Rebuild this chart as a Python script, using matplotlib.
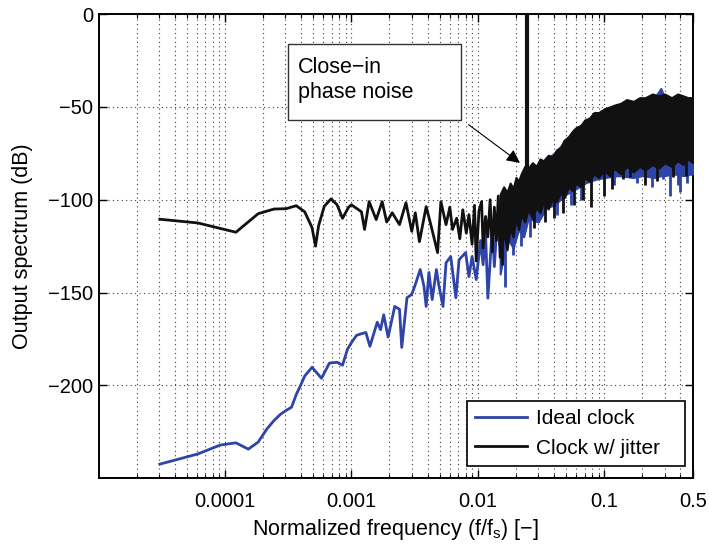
import numpy as np
import matplotlib
matplotlib.use("Agg")
import matplotlib.pyplot as plt
from matplotlib.patches import Rectangle

plt.rcParams['font.family'] = ['Liberation Sans', 'DejaVu Sans']
plt.rcParams['mathtext.fontset'] = 'custom'
plt.rcParams['mathtext.rm'] = 'Liberation Sans'

blue = '#2E44A8'
black = '#111111'

# ideal clock, low-frequency part (normalized freq, dB)
ideal_f = [3.05e-5, 6.1e-5, 9.16e-5, 1.22e-4, 1.53e-4, 1.83e-4, 2.14e-4, 2.44e-4,
           2.75e-4, 3.05e-4, 3.36e-4, 3.66e-4, 4.0e-4, 4.27e-4, 4.88e-4, 5.8e-4,
           6.7e-4, 7.7e-4, 8.5e-4, 9.3e-4, 1.0e-3, 1.1e-3, 1.3e-3, 1.4e-3, 1.6e-3,
           1.7e-3, 1.8e-3, 1.95e-3, 2.2e-3, 2.4e-3, 2.5e-3, 2.75e-3, 3.0e-3, 3.2e-3,
           3.5e-3, 3.75e-3, 3.9e-3, 4.1e-3, 4.35e-3, 4.7e-3, 4.9e-3, 5.3e-3, 5.6e-3,
           6.1e-3, 6.7e-3, 7.1e-3, 8.0e-3, 8.5e-3, 9.0e-3, 9.7e-3, 1.05e-2, 1.1e-2,
           1.15e-2, 1.2e-2, 1.3e-2, 1.35e-2, 1.42e-2, 1.5e-2, 1.55e-2, 1.62e-2, 1.7e-2]
ideal_db = [-242.5, -237, -232.2, -231, -234.4, -230.6, -223.6, -219,
            -215.6, -213.5, -211.8, -205, -199.4, -195, -190.3, -196.2,
            -188, -187.6, -189.2, -180.6, -177, -173, -171.5, -179, -166,
            -170, -162, -174, -157.5, -159, -179.6, -152.8, -151, -145.7,
            -137.6, -146.8, -157.5, -139.2, -153.8, -137.6, -145.7, -157.5, -134,
            -130.6, -152.8, -132.3, -128.5, -141.4, -130.6, -143, -122, -135,
            -118, -153, -114.5, -136, -112, -125, -110, -127, -105]

# clock with jitter, low-frequency part
jit_f = [3.05e-5, 6.1e-5, 1.22e-4, 1.83e-4, 2.44e-4, 3.05e-4, 3.66e-4, 4.27e-4,
         4.88e-4, 5.2e-4, 5.5e-4, 6.1e-4, 6.9e-4, 7.7e-4, 8.5e-4, 9.5e-4, 1.0e-3,
         1.2e-3, 1.27e-3, 1.38e-3, 1.57e-3, 1.75e-3, 1.9e-3, 2.1e-3, 2.4e-3, 2.7e-3,
         3.0e-3, 3.2e-3, 3.45e-3, 3.9e-3, 4.3e-3, 4.8e-3, 5.1e-3, 5.6e-3, 6.0e-3,
         6.3e-3, 6.8e-3, 7.2e-3, 7.6e-3, 8.1e-3, 8.5e-3, 9.0e-3, 9.4e-3, 9.7e-3,
         1.02e-2, 1.07e-2, 1.1e-2, 1.15e-2, 1.2e-2, 1.25e-2, 1.3e-2, 1.35e-2,
         1.4e-2, 1.45e-2, 1.5e-2, 1.55e-2, 1.6e-2, 1.65e-2, 1.7e-2]
jit_db = [-110.5, -112.5, -117.5, -107.5, -105, -104.8, -103.2, -106.5,
          -115, -125, -114, -103.5, -99.5, -102.7, -110, -104, -102.7,
          -106.5, -116, -101, -110.7, -101, -112, -107, -113.4, -101.6,
          -117, -107, -122.6, -103.7, -115, -128.5, -101, -113.4, -104,
          -116, -110, -121, -105.4, -118, -108, -124, -103, -133,
          -106, -101, -126, -109, -120, -100, -128, -104, -122,
          -98, -131, -102, -118, -99, -97]

# dense noise band, ideal clock
ib_f = [0.015, 0.017, 0.019, 0.021, 0.023, 0.025, 0.03, 0.035, 0.04, 0.05, 0.06,
        0.07, 0.085, 0.1, 0.13, 0.17, 0.2, 0.25, 0.28, 0.3, 0.35, 0.42, 0.5]
ib_hi = [-100, -96, -93, -90, -88, -86, -81, -78, -75, -68, -62,
         -58, -54, -52, -49, -47, -46, -45, -40, -45, -45, -45, -45]
ib_lo = [-140, -120, -126, -116, -120, -110, -112, -104, -103, -97, -94,
         -91, -89, -88, -87, -88, -87, -88, -87, -87, -86, -87, -86]

# dense noise band, clock w/ jitter
jb_f = [0.015, 0.016, 0.017, 0.018, 0.019, 0.02, 0.021, 0.022, 0.0235, 0.025, 0.027,
        0.029, 0.031, 0.033, 0.036, 0.039, 0.042, 0.045, 0.048, 0.052, 0.056, 0.06,
        0.065, 0.07, 0.076, 0.083, 0.09, 0.1, 0.11, 0.12, 0.135, 0.15, 0.17, 0.19,
        0.21, 0.24, 0.27, 0.3, 0.34, 0.38, 0.42, 0.46, 0.5]
jb_hi = [-97, -93, -96, -91, -94, -88, -90, -86, -82, -83, -80,
         -82, -78, -79, -76, -77, -73, -72, -68, -66, -63, -61,
         -60, -57, -56, -53, -53, -51, -50, -49, -48, -46, -47, -45,
         -45, -43, -44, -43, -45, -43, -44, -45, -45]
jb_lo = [-130, -118, -127, -115, -120, -110, -116, -108, -112, -105, -110,
         -104, -107, -101, -105, -99, -101, -96, -99, -93, -95, -91,
         -93, -88, -90, -86, -88, -84, -87, -83, -86, -82, -85, -82,
         -84, -81, -83, -80, -82, -79, -81, -78, -80]

# deep dips sticking out of the bands: freq, top, bottom
ideal_dip_f = [0.0165, 0.019, 0.022, 0.026, 0.042, 0.055, 0.065, 0.12, 0.18, 0.24, 0.29, 0.33, 0.38, 0.4, 0.45]
ideal_dip_top = [-120, -110, -105, -100, -90, -80, -75, -70, -65, -65, -65, -65, -65, -65, -65]
ideal_dip_bot = [-147, -130, -125, -120, -108, -103, -100, -92, -91, -93, -89, -98, -92, -96, -91]
jit_dip_f = [0.0155, 0.028, 0.034, 0.04, 0.047, 0.058, 0.068, 0.079, 0.1, 0.115, 0.14, 0.16, 0.21, 0.26, 0.35, 0.44]
jit_dip_top = [-110, -95, -90, -85, -80, -75, -70, -65, -65, -65, -60, -60, -60, -60, -60, -60]
jit_dip_bot = [-135, -115, -112, -110, -107, -103, -100, -104, -98, -94, -89, -88, -92, -90, -88, -87]

# clock tone
spike_f = 0.0243
spike_db = [-85, 0]

fig = plt.figure(figsize=(7.09, 5.47), dpi=100)
ax = fig.add_axes([0.139, 0.126, 0.838, 0.848])

ax.plot(ideal_f, ideal_db, color=blue, lw=2, label='Ideal clock', zorder=3)
ax.fill_between(ib_f, ib_lo, ib_hi, color=blue, lw=1.5, edgecolor=blue, zorder=3)
ax.vlines(ideal_dip_f, ideal_dip_bot, ideal_dip_top, color=blue, lw=2, zorder=3)

ax.plot(jit_f, jit_db, color=black, lw=2, label='Clock w/ jitter', zorder=4)
ax.fill_between(jb_f, jb_lo, jb_hi, color=black, lw=1.5, edgecolor=black, zorder=4)
ax.vlines(jit_dip_f, jit_dip_bot, jit_dip_top, color=black, lw=2, zorder=4)
ax.vlines(spike_f, spike_db[0], spike_db[1], color=black, lw=3, zorder=4)

ax.set_xscale('log')
ax.set_xlim(1e-5, 0.5)
ax.set_ylim(-250, 0)
ax.set_xticks([1e-4, 1e-3, 1e-2, 1e-1, 0.5])
ax.set_xticklabels(['0.0001', '0.001', '0.01', '0.1', '0.5'])
ax.set_yticks([-200, -150, -100, -50, 0])
ax.tick_params(which='both', direction='in', top=True, right=True, labelsize=14.5)
ax.tick_params(axis='x', pad=10)
ax.tick_params(axis='y', pad=4)
ax.tick_params(which='major', length=6, width=1)
ax.tick_params(which='minor', length=3, width=0.8)
ax.grid(True, which='major', color='0.25', linestyle=(0, (1, 3)), lw=0.8)
ax.grid(True, which='minor', axis='x', color='0.25', linestyle=(0, (1, 3)), lw=0.8)
for s in ax.spines.values():
    s.set_linewidth(1.4)

ax.set_xlabel('Normalized frequency (f/f$_\\mathregular{s}$) [\u2212]', fontsize=15.5, labelpad=4)
ax.set_ylabel('Output spectrum (dB)', fontsize=15.5, labelpad=11)

# textbox of fixed size, like the original figure
ax.add_patch(Rectangle((0.319, 0.772), 0.291, 0.163, transform=ax.transAxes,
                       fc='white', ec='0.2', lw=1, zorder=6))
ax.text(0.3356, 0.858, 'Close\u2212in\nphase noise', transform=ax.transAxes,
        fontsize=15.5, ha='left', va='center', linespacing=1.3, zorder=7)
ax.annotate('', xy=(0.0224, -81), xytext=(0.0081, -58.6),
            arrowprops=dict(arrowstyle='-|>', color='k', lw=0.8, mutation_scale=20), zorder=6)

leg = ax.legend(loc='lower left', bbox_to_anchor=(0.620, 0.0258, 0.3665, 0.1), mode='expand',
                fontsize=15, fancybox=False, edgecolor='black', framealpha=1,
                handlelength=2.5, handletextpad=0.4, borderaxespad=0)
leg.get_frame().set_linewidth(1.2)
leg.set_zorder(8)

fig.savefig('out.png', dpi=100)
